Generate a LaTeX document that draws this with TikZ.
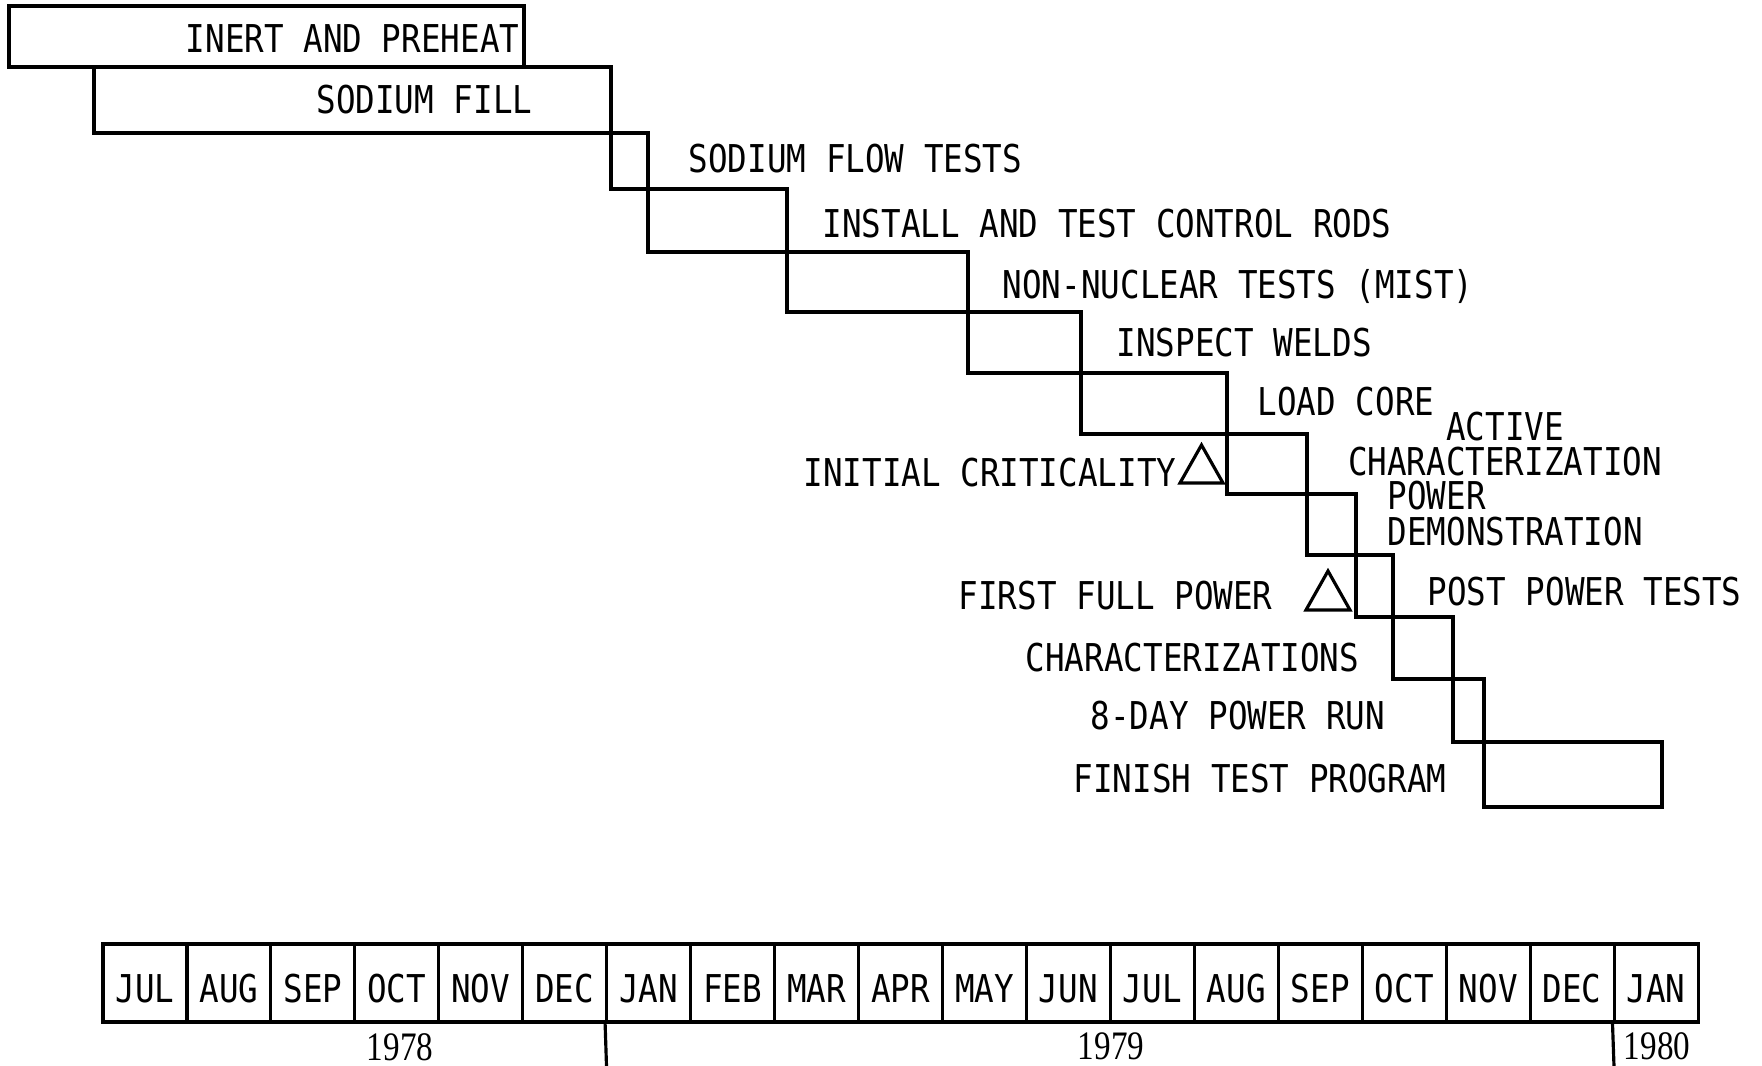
\documentclass[tikz,border=0pt]{standalone}
\usepackage{fontspec}
\setmainfont{DejaVu Sans Mono}[FakeStretch=0.85]
\newfontfamily\yearfont{Liberation Serif}[FakeStretch=0.82]
\begin{document}
\begin{tikzpicture}[x=0.01cm, y=-0.01cm,
		bar/.style={line width=0.9pt, line join=miter},
		lbl/.style={inner sep=0pt, anchor=base west, font=\fontsize{10.9}{12}\selectfont},
		twoline/.style={inner sep=0pt, font=\fontsize{10.9}{10.2}\selectfont},
		month/.style={draw, line width=0.9pt, minimum width=0.8395cm, minimum height=0.78cm, inner sep=0pt, text height=11pt, text depth=0pt, font=\fontsize{10.9}{12}\selectfont},
		year/.style={inner sep=0pt, font=\yearfont\fontsize{11.5}{12}\selectfont}]
		\useasboundingbox (0,0) rectangle (1762,1066);

		\draw[bar] (9,6) rectangle (524,67);
		\draw[bar] (94,67) rectangle (611,133);
		\draw[bar] (611,133) rectangle (648,189);
		\draw[bar] (648,189) rectangle (787,252);
		\draw[bar] (787,252) rectangle (968,312);
		\draw[bar] (968,312) rectangle (1081,373);
		\draw[bar] (1081,373) rectangle (1227,434);
		\draw[bar] (1227,434) rectangle (1307,494);
		\draw[bar] (1307,494) rectangle (1356,555);
		\draw[bar] (1356,555) rectangle (1393,617);
		\draw[bar] (1393,617) rectangle (1453,679);
		\draw[bar] (1453,679) rectangle (1484,742);
		\draw[bar] (1484,742) rectangle (1662,807);

		\node[lbl, anchor=base east] (inert) at (520,52) {INERT AND PREHEAT};
		\node[lbl, anchor=base east] (fill) at (533,113.5) {SODIUM FILL};
		\node[lbl] (flow) at (688,172.5) {SODIUM FLOW TESTS};
		\node[lbl] (rods) at (822,237) {INSTALL AND TEST CONTROL RODS};
		\node[lbl] (mist) at (1002,298.5) {NON-NUCLEAR TESTS (MIST)};
		\node[lbl] (welds) at (1116,356.5) {INSPECT WELDS};
		\node[lbl] (core) at (1257,415.5) {LOAD CORE};
		\node[twoline, align=center] (active) at (1505,444) {ACTIVE\\CHARACTERIZATION};
		\node[twoline, align=left, anchor=west] (demo) at (1387,513.5) {POWER\\DEMONSTRATION};
		\node[lbl, anchor=base east] (crit) at (1177,486.5) {INITIAL CRITICALITY};
		\node[lbl] (full) at (958,609) {FIRST FULL POWER};
		\node[lbl] (post) at (1427,605.5) {POST POWER TESTS};
		\node[lbl] (chars) at (1025,671.5) {CHARACTERIZATIONS};
		\node[lbl] (run) at (1090,729.5) {8-DAY POWER RUN};
		\node[lbl] (finish) at (1073,792.5) {FINISH TEST PROGRAM};

		\draw[bar] (1180,483) -- (1223,483) -- (1201.5,445) -- cycle;
		\draw[bar] (1306,610) -- (1350,610) -- (1328,571) -- cycle;

		\node[month] (m1) at (145.0,983) {JUL};
		\node[month] (m2) at (228.9,983) {AUG};
		\node[month] (m3) at (312.9,983) {SEP};
		\node[month] (m4) at (396.8,983) {OCT};
		\node[month] (m5) at (480.8,983) {NOV};
		\node[month] (m6) at (564.7,983) {DEC};
		\node[month] (m7) at (648.7,983) {JAN};
		\node[month] (m8) at (732.6,983) {FEB};
		\node[month] (m9) at (816.6,983) {MAR};
		\node[month] (m10) at (900.5,983) {APR};
		\node[month] (m11) at (984.5,983) {MAY};
		\node[month] (m12) at (1068.4,983) {JUN};
		\node[month] (m13) at (1152.4,983) {JUL};
		\node[month] (m14) at (1236.3,983) {AUG};
		\node[month] (m15) at (1320.3,983) {SEP};
		\node[month] (m16) at (1404.2,983) {OCT};
		\node[month] (m17) at (1488.2,983) {NOV};
		\node[month] (m18) at (1572.1,983) {DEC};
		\node[month] (m19) at (1656.1,983) {JAN};

		\coordinate (y79) at (606.5,1066);
		\coordinate (y80) at (1614,1066);
		\draw[bar] (m7.south west) -- (y79);
		\draw[bar] (m19.south west) -- (y80);

		\node[year] (t78) at (400,1047) {1978};
		\node[year] (t79) at (1111,1046) {1979};
		\node[year] (t80) at (1657,1046) {1980};
	\end{tikzpicture}
\end{document}
